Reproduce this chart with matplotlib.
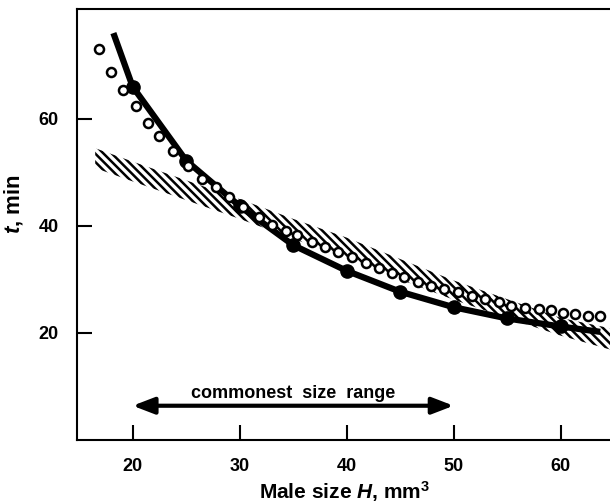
import matplotlib
matplotlib.use("Agg")
from matplotlib import pyplot as plt

plt.rcParams['font.family'] = ['Liberation Sans', 'DejaVu Sans']
plt.rcParams['font.weight'] = 'bold'
plt.rcParams['mathtext.fontset'] = 'custom'
plt.rcParams['mathtext.rm'] = 'Liberation Sans:bold'
plt.rcParams['mathtext.bf'] = 'Liberation Sans:bold'
plt.rcParams['mathtext.it'] = 'Liberation Sans:bold:italic'
plt.rcParams['hatch.linewidth'] = 1.8

# model curve (solid line) and its computed points
curve_x = [18.2, 20, 25, 30, 35, 40, 45, 50, 55, 60, 63.7]
curve_y = [76.0, 66.0, 52.2, 43.7, 36.4, 31.6, 27.7, 24.8, 22.7, 21.2, 20.2]
model_x = [20, 25, 30, 35, 40, 45, 50, 55, 60]
model_y = [66.0, 52.2, 43.7, 36.4, 31.6, 27.7, 24.8, 22.7, 21.2]

# open circles
open_x = [16.9, 18.0, 19.1, 20.3, 21.4, 22.5, 23.8, 25.2, 26.5, 27.8, 29.0, 30.3,
          31.8, 33.0, 34.3, 35.4, 36.8, 38.0, 39.2, 40.5, 41.8, 43.0, 44.2, 45.4,
          46.7, 47.9, 49.1, 50.4, 51.7, 52.9, 54.2, 55.4, 56.7, 58.0, 59.1, 60.2,
          61.3, 62.6, 63.7]
open_y = [73.0, 68.7, 65.4, 62.3, 59.2, 56.7, 53.9, 51.1, 48.8, 47.2, 45.3, 43.6,
          41.6, 40.2, 39.1, 38.2, 36.9, 36.0, 35.2, 34.1, 33.0, 32.1, 31.2, 30.4,
          29.6, 28.8, 28.2, 27.6, 26.9, 26.3, 25.7, 25.0, 24.6, 24.4, 24.2, 23.8,
          23.5, 23.2, 23.2]

# hatched band
band_x = [16.5, 20, 25, 30, 35, 40, 45, 50, 55, 60, 64.8]
band_hi = [54.5, 52.0, 48.5, 45.0, 41.3, 37.8, 33.8, 29.8, 26.3, 22.8, 20.8]
band_lo = [50.8, 48.3, 44.8, 41.3, 37.6, 34.0, 30.0, 26.2, 22.8, 19.5, 16.8]

x_ticks = [20, 30, 40, 50, 60]
y_ticks = [20, 40, 60]
range_lo, range_hi = 20, 50

fig = plt.figure(figsize=(6.1, 5.04), dpi=100)
ax = fig.add_axes([77 / 610, 64 / 504, 535 / 610, 431 / 504])

ax.fill_between(band_x, band_lo, band_hi, facecolor='white', edgecolor='black',
                hatch='\\' * 4, linewidth=0, zorder=1)
ax.plot(curve_x, curve_y, color='black', lw=4.5, solid_capstyle='butt', zorder=2)
ax.plot(model_x, model_y, 'o', color='black', ms=9.5, zorder=2)
ax.plot(open_x, open_y, 'o', mfc='white', mec='black', ms=6.5, mew=1.8, zorder=3)

# commonest size range arrow
ax.annotate('', xy=(range_lo, 6.4), xytext=(range_hi, 6.4),
            arrowprops=dict(arrowstyle='<|-|>,head_length=0.65,head_width=0.25',
                            color='black', lw=3, mutation_scale=20,
                            shrinkA=0, shrinkB=0))
ax.text((range_lo + range_hi) / 2, 7.9, 'commonest  size  range', ha='center',
        va='baseline', fontsize=13, fontweight='bold')

ax.set_xlim(14.8, 64.8)
ax.set_ylim(0, 80.5)
ax.set_xticks(x_ticks)
ax.set_yticks(y_ticks)
ax.tick_params(direction='in', length=11, width=1.5, labelsize=13, pad=13)
ax.spines['right'].set_visible(False)
for s in ['left', 'bottom', 'top']:
    ax.spines[s].set_linewidth(1.5)

ax.set_xlabel(r'Male size $\mathit{H}$, mm$^\mathbf{3}$', fontsize=15,
              fontweight='bold', va='baseline')
ax.set_ylabel(r'$\mathit{t}$, min', fontsize=16, fontweight='bold')
ax.xaxis.set_label_coords(0.5, -0.137)
ax.yaxis.set_label_coords(-0.097, 0.548)

fig.savefig('out.png', dpi=100)
